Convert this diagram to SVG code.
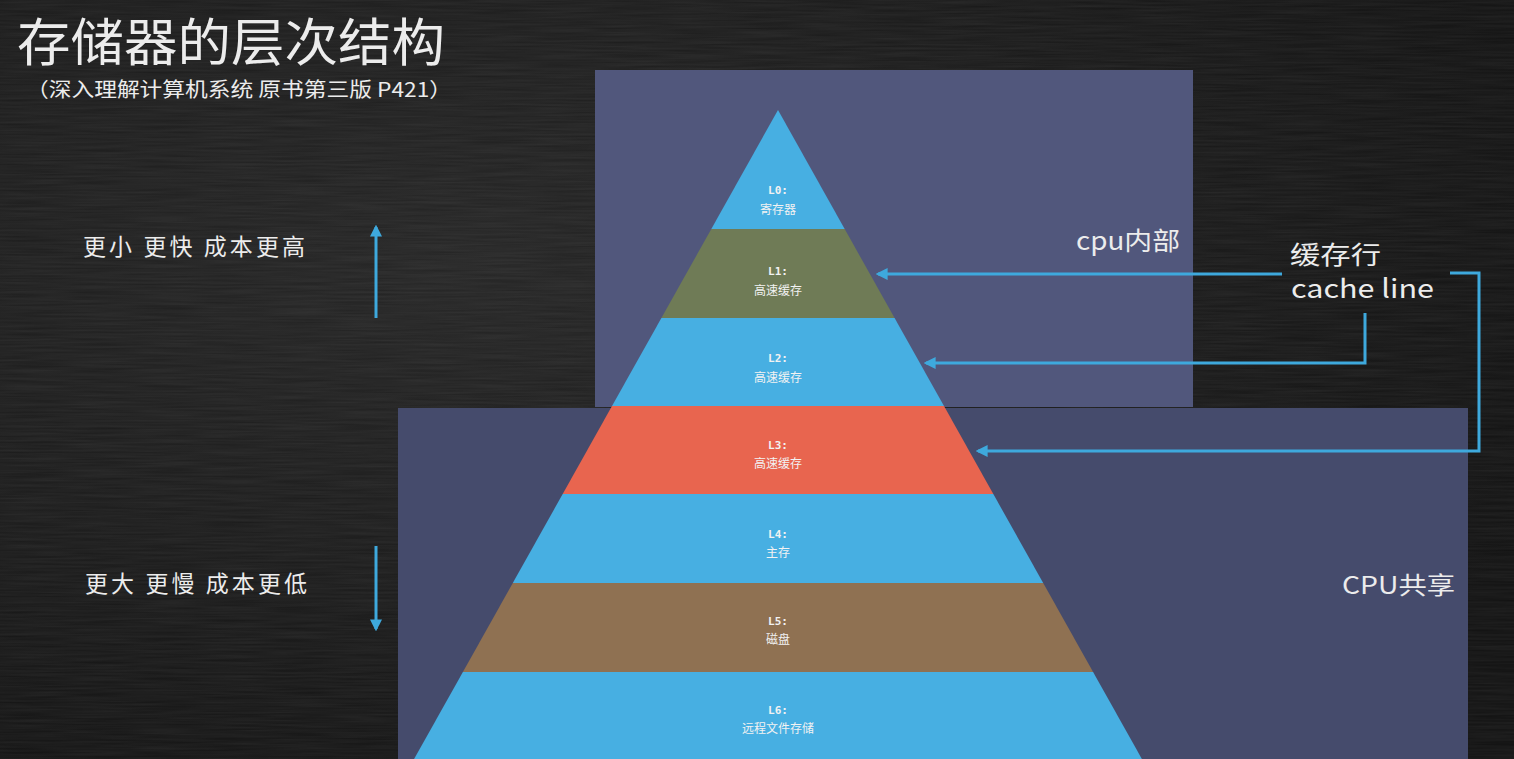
<svg xmlns="http://www.w3.org/2000/svg" width="1514" height="759" viewBox="0 0 1514 759">
  <defs>
    <style>
      .cjk { font-family: "Noto Sans CJK SC", "Noto Sans", sans-serif; fill: #ececec; }
      .lvl { font-family: "DejaVu Sans Mono", "Liberation Mono", monospace; font-weight: bold; font-size: 11px; fill: #f2f2f2; text-anchor: middle; }
      .lvlsub { font-family: "Noto Sans CJK SC", serif; font-size: 12px; fill: #f2f2f2; text-anchor: middle; }
      .conn { fill: none; stroke: #3ea9dd; stroke-width: 3; }
      .blue { fill: #47afe2; }
    </style>
    <marker id="ah" viewBox="0 0 10 10" refX="8" refY="5" markerWidth="4" markerHeight="4" orient="auto" markerUnits="strokeWidth">
      <path d="M0,0 L10,5 L0,10 Z" fill="#3ea9dd"/>
    </marker>
    <radialGradient id="bg" cx="0.3" cy="0.35" r="0.8">
      <stop offset="0" stop-color="#242424"/>
      <stop offset="1" stop-color="#101010"/>
    </radialGradient>
    <filter id="chalk" x="0" y="0" width="1" height="1">
      <feTurbulence type="fractalNoise" baseFrequency="0.015 0.5" numOctaves="2" seed="3"/>
      <feColorMatrix type="matrix" values="0 0 0 0 1  0 0 0 0 1  0 0 0 0 1  0 0 0 0.08 0"/>
    </filter>
  </defs>

  <rect width="1514" height="759" fill="url(#bg)"/>
  <rect width="1514" height="759" filter="url(#chalk)"/>

  <g id="title">
    <text class="cjk" x="17" y="61" font-size="51" textLength="428" lengthAdjust="spacingAndGlyphs">存储器的层次结构</text>
    <text class="cjk" x="26" y="97" font-size="20" textLength="426" lengthAdjust="spacingAndGlyphs">（深入理解计算机系统 原书第三版 P421）</text>
  </g>

  <g id="region-cpu-internal">
    <rect x="595" y="70" width="598" height="337" fill="#51577c"/>
    <text class="cjk" x="1076" y="250" font-size="25" textLength="104" lengthAdjust="spacingAndGlyphs">cpu内部</text>
  </g>
  <g id="region-cpu-shared">
    <rect x="398" y="408" width="1070" height="351" fill="#454b6c"/>
    <text class="cjk" x="1342" y="594" font-size="24" textLength="113" lengthAdjust="spacingAndGlyphs">CPU共享</text>
  </g>

  <g id="L0">
    <polygon class="blue" points="778,110 844.7,229 711.3,229"/>
    <text class="lvl" x="778" y="194">L0:</text>
    <text class="lvlsub" x="778" y="214">寄存器</text>
  </g>
  <g id="L1">
    <polygon fill="#6f7b56" points="711.3,229 844.7,229 894.6,318 661.4,318"/>
    <text class="lvl" x="778" y="275">L1:</text>
    <text class="lvlsub" x="778" y="295">高速缓存</text>
  </g>
  <g id="L2">
    <polygon class="blue" points="661.4,318 894.6,318 944,406 612,406"/>
    <text class="lvl" x="778" y="362">L2:</text>
    <text class="lvlsub" x="778" y="382">高速缓存</text>
  </g>
  <g id="L3">
    <polygon fill="#e8654f" points="612,406 944,406 993.3,494 562.7,494"/>
    <text class="lvl" x="778" y="449">L3:</text>
    <text class="lvlsub" x="778" y="468">高速缓存</text>
  </g>
  <g id="L4">
    <polygon class="blue" points="562.7,494 993.3,494 1043.2,583 512.8,583"/>
    <text class="lvl" x="778" y="538">L4:</text>
    <text class="lvlsub" x="778" y="557">主存</text>
  </g>
  <g id="L5">
    <polygon fill="#8f7152" points="512.8,583 1043.2,583 1093.1,672 462.9,672"/>
    <text class="lvl" x="778" y="625">L5:</text>
    <text class="lvlsub" x="778" y="644">磁盘</text>
  </g>
  <g id="L6">
    <polygon class="blue" points="462.9,672 1093.1,672 1141.9,759 414.1,759"/>
    <text class="lvl" x="778" y="714">L6:</text>
    <text class="lvlsub" x="778" y="733">远程文件存储</text>
  </g>

  <g id="cache-line-label">
    <text class="cjk" x="1290" y="264" font-size="25" textLength="91" lengthAdjust="spacingAndGlyphs">缓存行</text>
    <text class="cjk" x="1291" y="298" font-size="26" textLength="143" lengthAdjust="spacingAndGlyphs">cache line</text>
  </g>

  <g id="side-labels">
    <text class="cjk" x="83" y="255" font-size="23" textLength="222" lengthAdjust="spacing">更小 更快 成本更高</text>
    <text class="cjk" x="85" y="592" font-size="23" textLength="222" lengthAdjust="spacing">更大 更慢 成本更低</text>
  </g>

  <g id="connectors">
    <path class="conn" d="M1282,274 L878,274" marker-end="url(#ah)"/>
    <path class="conn" d="M1365,313 L1365,363 L926,363" marker-end="url(#ah)"/>
    <path class="conn" d="M1450,273 L1479,273 L1479,451 L978,451" marker-end="url(#ah)"/>
    <path class="conn" d="M376,318 L376,227" marker-end="url(#ah)"/>
    <path class="conn" d="M376,546 L376,629" marker-end="url(#ah)"/>
  </g>
</svg>
